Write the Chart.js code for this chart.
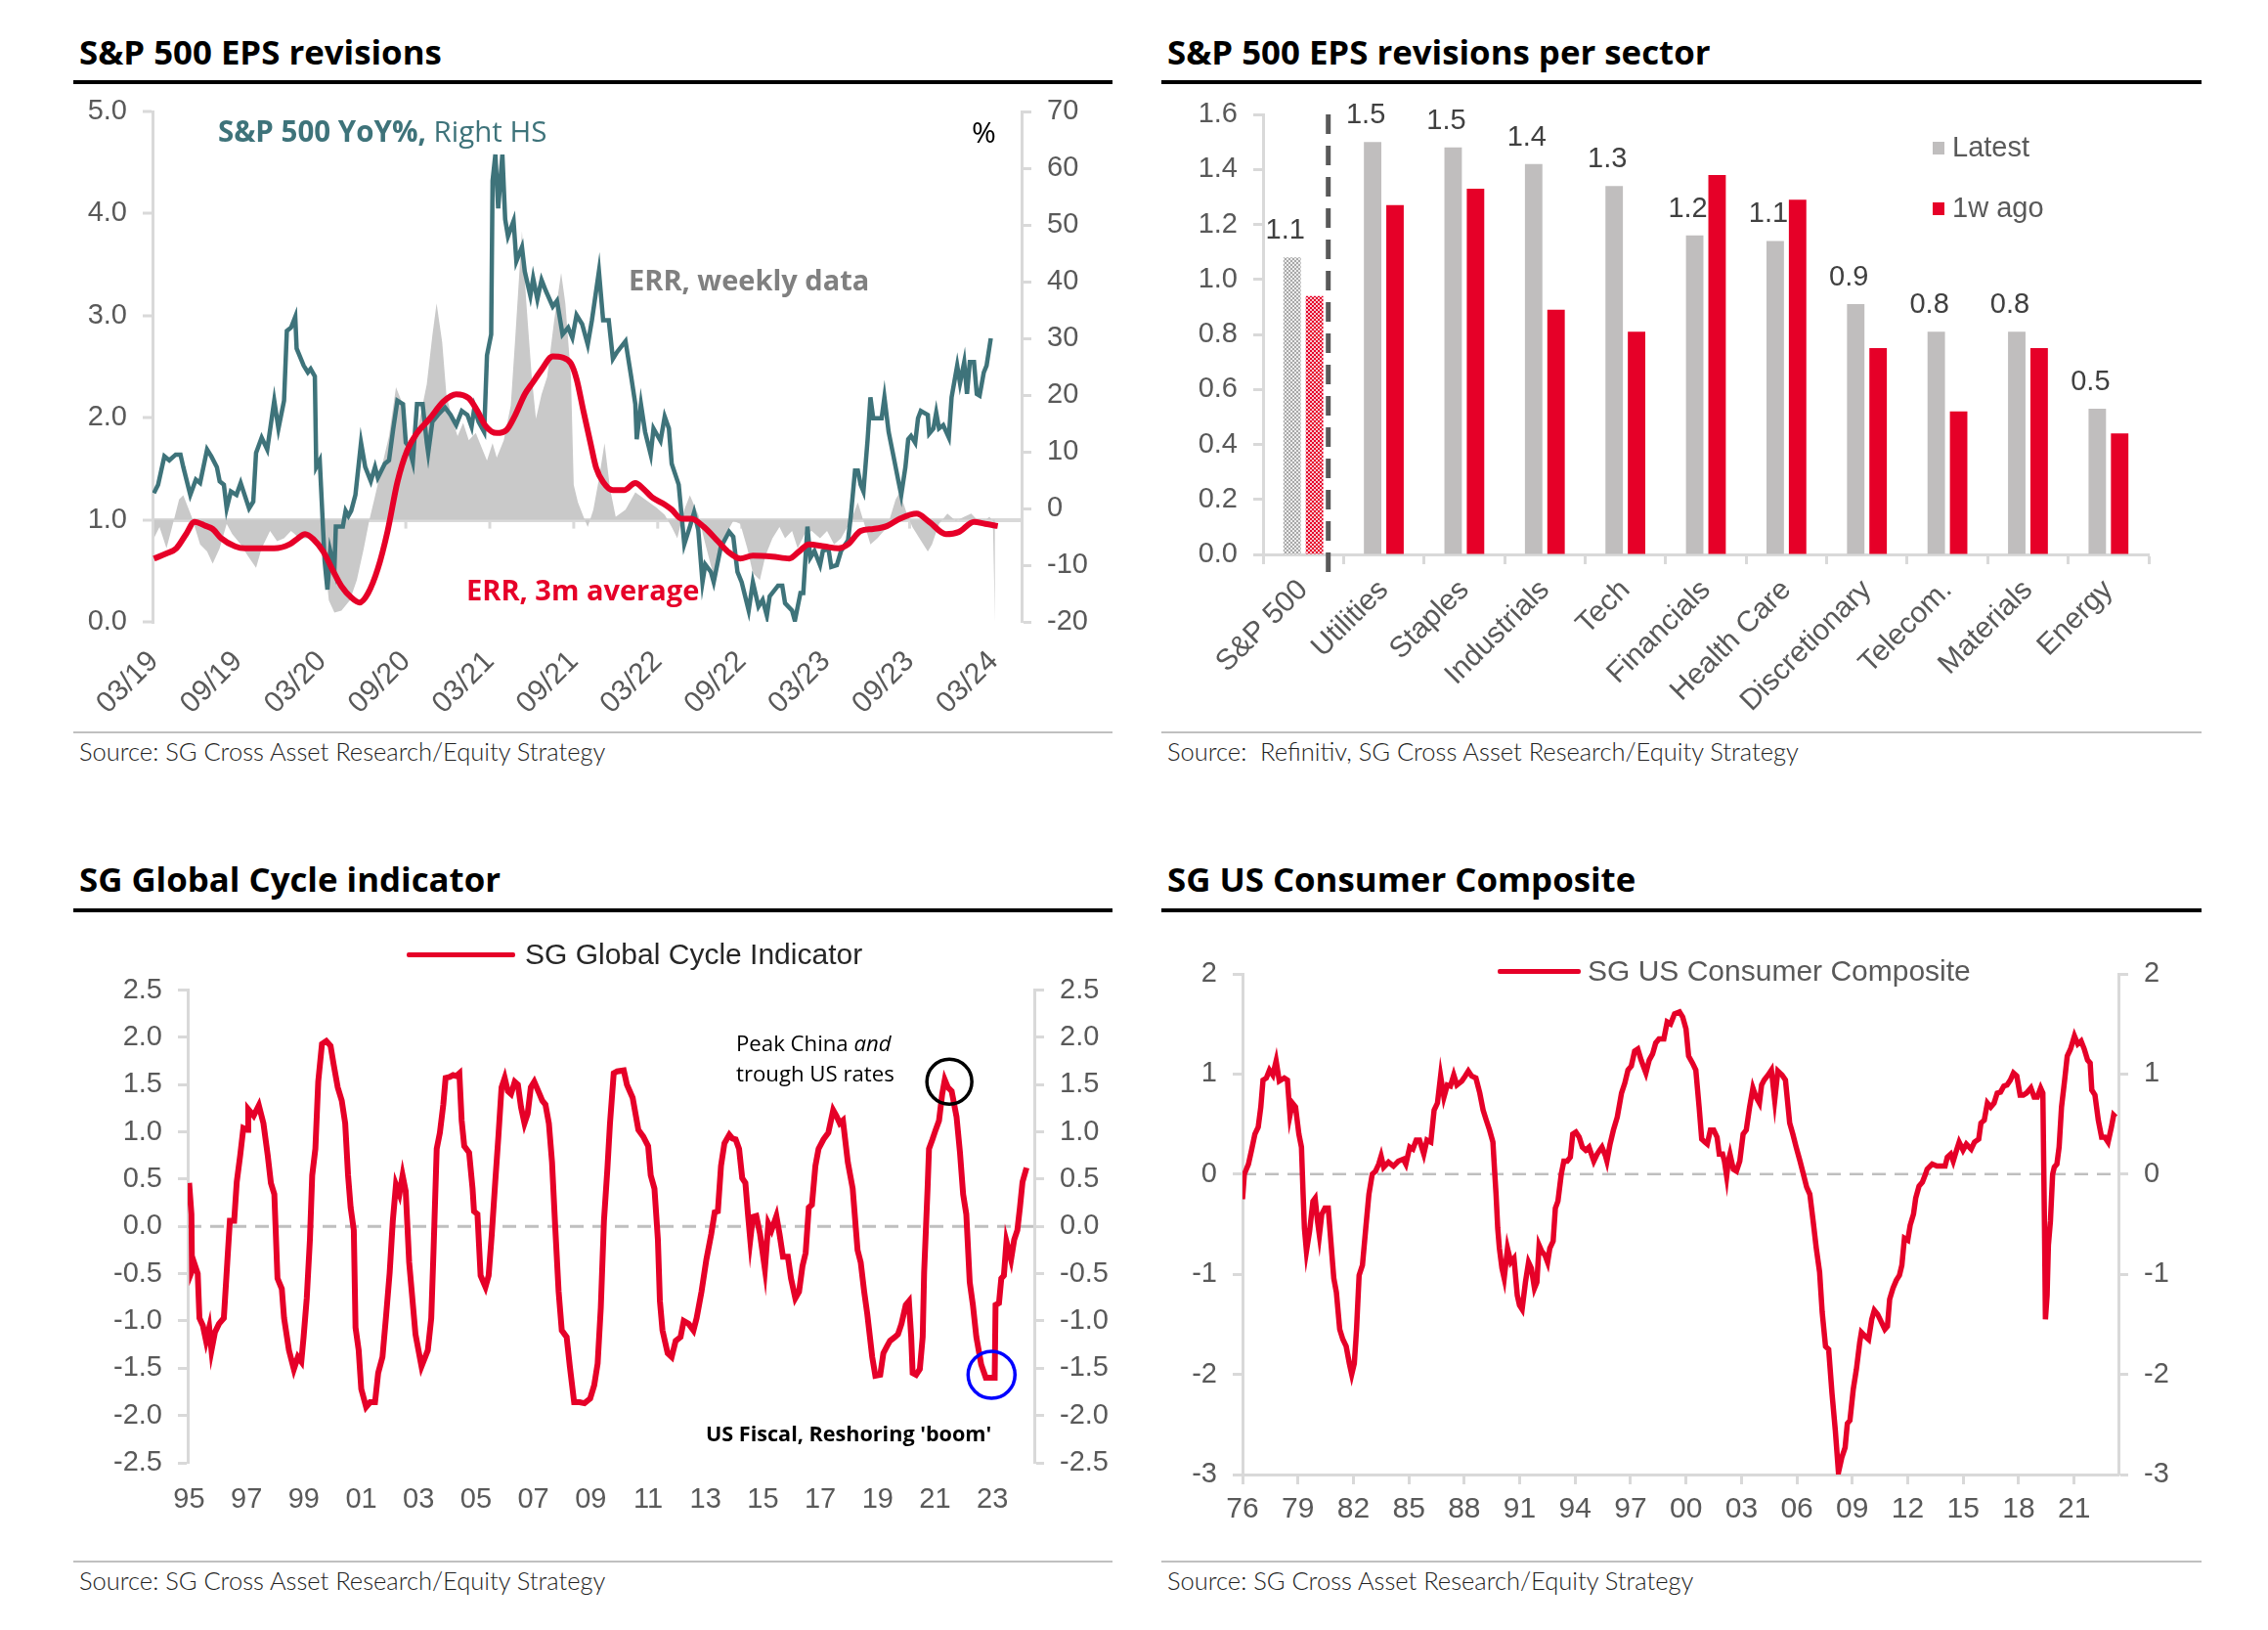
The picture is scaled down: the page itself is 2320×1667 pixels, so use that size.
<!DOCTYPE html>
<html><head><meta charset="utf-8">
<script src="https://cdn.jsdelivr.net/npm/chart.js@4.4.1/dist/chart.umd.min.js"></script>
<style>
body{margin:0;width:2320px;height:1667px;background:#fff;position:relative;overflow:hidden;font-family:'Open Sans',sans-serif}
.abs{position:absolute;white-space:nowrap}
.title{font-family:'Open Sans';font-weight:700;font-size:34.8px;color:#000;line-height:34px}
.rule{position:absolute;height:4px;background:#000}
.srule{position:absolute;height:2px;background:#c0c0c0}
.src{font-family:'Lato';font-weight:300;font-size:25.5px;color:#222;line-height:25px}
.ann{font-family:'Open Sans';line-height:1}
.leg{font-family:'Liberation Sans',Arial,sans-serif;font-size:30px;line-height:30px}
canvas{position:absolute}
</style></head><body>

<div class="abs title" style="left:81px;top:36px">S&amp;P 500 EPS revisions</div>
<div class="rule" style="left:75px;top:82px;width:1063px"></div>
<div class="srule" style="left:75px;top:748px;width:1063px"></div>
<div class="abs src" style="left:81px;top:756px">Source: SG Cross Asset Research/Equity Strategy</div>

<div class="abs title" style="left:1194px;top:36px">S&amp;P 500 EPS revisions per sector</div>
<div class="rule" style="left:1188px;top:82px;width:1064px"></div>
<div class="srule" style="left:1188px;top:748px;width:1064px"></div>
<div class="abs src" style="left:1194px;top:756px">Source:&nbsp; Refinitiv, SG Cross Asset Research/Equity Strategy</div>

<div class="abs title" style="left:81px;top:882px">SG Global Cycle indicator</div>
<div class="rule" style="left:75px;top:929px;width:1063px"></div>
<div class="srule" style="left:75px;top:1596px;width:1063px"></div>
<div class="abs src" style="left:81px;top:1604px">Source: SG Cross Asset Research/Equity Strategy</div>

<div class="abs title" style="left:1194px;top:882px">SG US Consumer Composite</div>
<div class="rule" style="left:1188px;top:929px;width:1064px"></div>
<div class="srule" style="left:1188px;top:1596px;width:1064px"></div>
<div class="abs src" style="left:1194px;top:1604px">Source: SG Cross Asset Research/Equity Strategy</div>

<canvas id="c1" width="1120" height="650" style="left:40px;top:90px"></canvas>
<canvas id="c2" width="1070" height="650" style="left:1180px;top:90px"></canvas>
<canvas id="c3" width="1120" height="600" style="left:40px;top:985px"></canvas>
<canvas id="c4" width="1070" height="610" style="left:1180px;top:970px"></canvas>

<!-- panel 1 annotations -->
<div class="abs ann" style="left:223px;top:119px;font-size:29.5px;color:#3e737a"><b style="font-weight:700">S&amp;P 500 YoY%,</b> Right HS</div>
<div class="abs ann" style="left:994px;top:120px;font-size:30px;color:#000">%</div>
<div class="abs ann" style="left:643px;top:271px;font-size:29px;color:#808080;font-weight:700">ERR, weekly data</div>
<div class="abs ann" style="left:477px;top:588px;font-size:29px;color:#e60028;font-weight:700">ERR, 3m average</div>

<!-- panel 3 legend & annotations -->
<div class="abs" style="left:416px;top:974px;width:111px;height:5px;background:#e60028;border-radius:2px"></div>
<div class="abs leg" style="left:537px;top:961px;color:#262626">SG Global Cycle Indicator</div>
<div class="abs ann" style="left:753px;top:1056px;font-size:22.2px;color:#000">Peak China <i>and</i></div>
<div class="abs ann" style="left:753px;top:1087px;font-size:22.2px;color:#000">trough US rates</div>
<div class="abs ann" style="left:722px;top:1455px;font-size:21.6px;color:#000;font-weight:700">US Fiscal, Reshoring 'boom'</div>

<!-- panel 4 legend -->
<div class="abs" style="left:1532px;top:991px;width:85px;height:5px;background:#e60028;border-radius:2px"></div>
<div class="abs leg" style="left:1624px;top:978px;color:#595959">SG US Consumer Composite</div>

<script>
// ---------------- DATA ----------------
// Panel 1: x = months since Mar-2019
const p1TickMonths = [0,6,12,18,24,30,36,42,48,54,60];
const p1TickLabels = ['03/19','09/19','03/20','09/20','03/21','09/21','03/22','09/22','03/23','09/23','03/24'];
const p1Baseline = 1.0;
const p1SpxYoY = [[0,2.7],[0.3,4.2],[0.75,9.2],[1.1,8.5],[1.56,9.5],[1.9,9.5],[2.1,7.3],[2.6,2.4],[3.0,5.1],[3.3,4.5],[3.8,10.4],[4.1,9.2],[4.5,7.3],[4.7,4.8],[5.0,4.2],[5.2,0],[5.5,3],[5.9,2.4],[6.2,4.5],[6.8,0],[7.1,1.2],[7.3,9.8],[7.7,12.5],[8.1,10.4],[8.6,19],[8.9,14.1],[9.3,19],[9.5,31.3],[9.8,31.9],[10.1,33.8],[10.2,28.2],[10.7,25.2],[11.0,24],[11.2,24.6],[11.5,23.3],[11.6,7.3],[11.85,8.5],[12.2,-9.3],[12.4,-14.3],[12.6,-7.5],[12.9,-10.6],[13.0,-3.2],[13.5,-3.2],[13.7,-0.4],[13.9,-1.3],[14.1,-0.4],[14.4,2.4],[14.8,11.6],[15.1,7.3],[15.5,4.8],[15.8,7.3],[16.0,5.4],[16.5,7.9],[16.8,8.5],[17.1,14],[17.4,19],[17.8,18.4],[18.0,11.6],[18.2,11],[18.5,8.2],[18.8,18.4],[19.2,18.4],[19.5,11.6],[19.6,9.8],[19.9,15.3],[20.3,16.5],[20.8,17.8],[21.2,16.5],[21.6,14.7],[22.0,17.2],[22.4,16.5],[22.7,14.4],[22.9,17.8],[23.2,15.3],[23.6,13.5],[23.8,27],[24.1,30.7],[24.2,57.8],[24.4,62.4],[24.6,52.9],[24.9,62.4],[25.1,51],[25.3,48],[25.7,50.7],[25.9,43.6],[26.3,46.1],[26.5,41.8],[26.9,37.5],[27.1,40.6],[27.4,36.9],[27.7,40.3],[28.0,38.4],[28.5,35.6],[28.8,36.6],[29.2,30.7],[29.6,31.9],[29.9,30.1],[30.2,34.1],[30.6,32.5],[31.0,28.9],[31.3,33.2],[31.8,41.8],[32.1,33.2],[32.5,33.2],[32.8,26.4],[33.1,27.6],[33.7,29.5],[34.1,23.3],[34.4,18.4],[34.5,12.2],[34.8,18.4],[35.1,13.5],[35.5,9.5],[35.7,14.1],[36.2,11.9],[36.5,16.2],[36.8,14.1],[37.0,7.9],[37.5,4.2],[37.9,-6.3],[38.3,-3.2],[38.6,-0.7],[38.9,-3.8],[39.2,-13],[39.4,-9.9],[39.8,-11.2],[40.0,-13],[40.5,-6.9],[41.1,-4.1],[41.4,-5],[41.7,-11.2],[42.0,-13],[42.5,-18],[42.8,-13],[43.2,-17.3],[43.5,-16.1],[43.8,-18.9],[44.0,-15.5],[44.6,-13.6],[44.9,-13.6],[45.1,-16.7],[45.6,-18],[45.8,-19.8],[46.2,-14.9],[46.4,-14.9],[46.7,-3.2],[46.9,-8.7],[47.2,-7.5],[47.6,-10],[47.8,-7.5],[48.2,-7.1],[48.4,-10.3],[48.8,-10],[49.1,-7.5],[49.6,-5.6],[49.8,-1.3],[50.1,6.7],[50.3,6.7],[50.5,4.2],[50.7,3],[51.0,12.2],[51.2,19.6],[51.4,15.9],[51.7,15.9],[52.0,15.9],[52.2,19.6],[52.5,13.5],[52.8,9.8],[53.2,4.8],[53.4,2.4],[53.7,7.3],[53.9,12.2],[54.1,12.8],[54.4,11.6],[54.6,15.9],[54.8,17.2],[55.3,16.5],[55.4,13.2],[55.7,14.1],[55.9,16.9],[56.1,14.1],[56.4,14.7],[56.8,12.5],[57.0,19.6],[57.4,25.2],[57.6,22.1],[57.9,25.8],[58.1,20.2],[58.3,25.8],[58.6,25.8],[58.8,20.2],[59.0,19.9],[59.3,24],[59.5,25.2],[59.8,30]];
const p1Err3m = [[0,0.62],[0.9,0.67],[1.6,0.72],[2.3,0.86],[2.9,0.98],[3.7,0.94],[4.2,0.91],[4.8,0.82],[5.8,0.74],[6.5,0.72],[7.6,0.72],[8.6,0.72],[9.7,0.76],[10.3,0.82],[10.8,0.86],[11.4,0.81],[12.1,0.69],[12.8,0.50],[13.4,0.35],[14.1,0.24],[14.7,0.19],[15.3,0.28],[16.0,0.52],[16.7,0.89],[17.4,1.37],[18.1,1.68],[18.8,1.85],[19.7,1.99],[20.7,2.16],[21.6,2.23],[22.5,2.19],[23.1,2.07],[23.7,1.92],[24.5,1.85],[25.2,1.88],[25.8,2.02],[26.5,2.23],[27.1,2.35],[27.7,2.47],[28.5,2.60],[29.2,2.59],[29.8,2.53],[30.2,2.38],[30.7,2.06],[31.2,1.75],[31.6,1.51],[32.1,1.37],[32.8,1.29],[33.6,1.29],[34.4,1.36],[35.0,1.30],[35.6,1.22],[36.5,1.15],[37.0,1.10],[37.7,1.01],[38.4,1.01],[39.3,0.93],[40.3,0.79],[41.0,0.69],[41.9,0.62],[42.8,0.65],[44.2,0.64],[45.4,0.62],[46.1,0.69],[46.8,0.76],[47.9,0.74],[48.9,0.72],[49.6,0.76],[50.5,0.89],[51.4,0.91],[52.4,0.94],[53.3,1.01],[54.5,1.06],[55.4,0.98],[56.6,0.86],[57.5,0.88],[58.6,0.98],[59.4,0.96],[60.3,0.94]];
const p1ErrWeekly = [[0,0.82],[0.4,0.93],[0.9,0.72],[1.3,0.93],[1.8,1.2],[2.1,1.24],[2.7,1.03],[3.3,0.76],[3.8,0.69],[4.2,0.57],[4.7,0.72],[5.2,0.96],[5.6,0.86],[6.2,0.76],[6.7,0.65],[7.3,0.53],[7.7,0.72],[8.3,0.89],[8.8,0.79],[9.3,0.82],[9.8,0.89],[10.4,0.82],[11.1,0.82],[11.7,0.72],[12.2,0.62],[12.5,0.21],[12.9,0.09],[13.4,0.11],[14.0,0.21],[14.5,0.41],[15.0,0.72],[15.4,1.0],[15.8,1.23],[16.2,1.47],[16.8,1.82],[17.3,2.3],[17.7,2.16],[18.1,1.71],[18.8,1.85],[19.5,2.33],[19.9,2.81],[20.2,3.12],[20.6,2.74],[20.9,2.23],[21.3,1.99],[21.7,1.82],[22.1,1.95],[22.5,1.78],[23.0,1.85],[23.5,1.68],[23.8,1.58],[24.2,1.75],[24.5,1.61],[25.0,1.78],[25.5,2.12],[25.8,2.74],[26.3,3.83],[26.6,3.15],[27.0,2.4],[27.3,1.99],[27.7,2.23],[28.1,2.4],[28.6,2.95],[29.1,3.42],[29.4,3.12],[29.8,2.4],[30.0,1.34],[30.3,1.17],[30.7,1.03],[31.0,0.93],[31.4,1.1],[31.8,1.4],[32.2,1.75],[32.6,1.3],[33.0,1.03],[33.7,1.1],[34.4,1.27],[35.1,1.2],[35.9,1.12],[36.5,1.05],[37.0,0.93],[37.4,0.82],[37.9,1.1],[38.3,1.24],[38.9,1.05],[39.3,0.82],[39.8,0.55],[40.1,0.41],[40.5,0.69],[41.0,0.89],[41.4,0.99],[41.9,0.96],[42.4,0.72],[42.8,0.48],[43.3,0.41],[43.7,0.65],[44.2,0.82],[44.7,0.93],[45.1,0.82],[45.6,0.89],[46.0,0.72],[46.5,0.86],[47.0,0.89],[47.6,0.82],[48.1,0.89],[48.6,0.76],[49.1,0.82],[49.8,0.99],[50.3,1.17],[50.7,0.99],[51.2,0.76],[51.7,0.82],[52.4,0.93],[53.0,1.2],[53.3,1.27],[53.8,1.06],[54.2,0.93],[54.7,0.82],[55.3,0.69],[55.6,0.76],[56.1,0.96],[56.7,1.06],[57.3,0.99],[57.9,1.03],[58.4,1.06],[59.1,0.96],[59.7,1.03],[59.95,0.99],[60.1,0.0]];

// Panel 2
const p2Sectors = ['S&P 500','Utilities','Staples','Industrials','Tech','Financials','Health Care','Discretionary','Telecom.','Materials','Energy'];
const p2Latest = [1.08,1.50,1.48,1.42,1.34,1.16,1.14,0.91,0.81,0.81,0.53];
const p2WeekAgo = [0.94,1.27,1.33,0.89,0.81,1.38,1.29,0.75,0.52,0.75,0.44];

// Panel 3: x = year
const p3TickYears = [1995,1997,1999,2001,2003,2005,2007,2009,2011,2013,2015,2017,2019,2021,2023];
const p3TickLabels = ['95','97','99','01','03','05','07','09','11','13','15','17','19','21','23'];
const p3Cycle = [[1995.0,0.46],[1995.08,0.13],[1995.1,-0.47],[1995.19,-0.40],[1995.3,-0.50],[1995.36,-0.97],[1995.48,-1.05],[1995.59,-1.21],[1995.7,-1.07],[1995.78,-1.31],[1995.9,-1.12],[1996.04,-1.03],[1996.21,-0.97],[1996.33,-0.38],[1996.42,0.06],[1996.57,0.06],[1996.66,0.47],[1996.78,0.75],[1996.89,1.04],[1997.03,1.02],[1997.06,1.24],[1997.25,1.17],[1997.43,1.28],[1997.59,1.09],[1997.74,0.75],[1997.85,0.46],[1997.97,0.34],[1998.08,-0.55],[1998.23,-0.66],[1998.31,-0.97],[1998.48,-1.31],[1998.65,-1.51],[1998.79,-1.38],[1998.91,-1.43],[1998.99,-1.17],[1999.1,-0.76],[1999.21,-0.14],[1999.29,0.54],[1999.4,0.82],[1999.5,1.53],[1999.63,1.93],[1999.78,1.96],[1999.93,1.91],[2000.04,1.71],[2000.18,1.47],[2000.32,1.33],[2000.44,1.09],[2000.54,0.54],[2000.63,0.20],[2000.74,-0.04],[2000.8,-1.07],[2000.91,-1.31],[2001.0,-1.72],[2001.17,-1.91],[2001.31,-1.86],[2001.48,-1.86],[2001.59,-1.55],[2001.74,-1.38],[2001.87,-0.93],[2001.99,-0.49],[2002.1,0.06],[2002.21,0.44],[2002.33,0.34],[2002.44,0.54],[2002.55,0.37],[2002.67,-0.38],[2002.76,-0.69],[2002.89,-1.14],[2003.1,-1.48],[2003.32,-1.31],[2003.44,-0.97],[2003.52,-0.25],[2003.63,0.82],[2003.74,0.99],[2003.86,1.29],[2003.94,1.57],[2004.08,1.58],[2004.2,1.60],[2004.31,1.59],[2004.42,1.62],[2004.5,1.12],[2004.59,0.85],[2004.76,0.78],[2004.88,0.40],[2004.93,0.16],[2005.05,0.13],[2005.16,-0.52],[2005.33,-0.64],[2005.44,-0.52],[2005.55,-0.08],[2005.67,0.47],[2005.78,0.95],[2005.89,1.47],[2006.0,1.57],[2006.11,1.43],[2006.22,1.40],[2006.35,1.53],[2006.46,1.50],[2006.57,1.26],[2006.69,1.09],[2006.8,1.19],[2006.91,1.47],[2007.03,1.53],[2007.2,1.41],[2007.31,1.33],[2007.42,1.29],[2007.54,1.09],[2007.65,0.68],[2007.76,0.0],[2007.88,-0.69],[2007.99,-1.10],[2008.16,-1.17],[2008.27,-1.48],[2008.42,-1.86],[2008.61,-1.86],[2008.78,-1.87],[2008.98,-1.82],[2009.12,-1.68],[2009.24,-1.45],[2009.35,-0.86],[2009.46,0.06],[2009.58,0.61],[2009.67,1.09],[2009.8,1.62],[2009.92,1.64],[2010.15,1.65],[2010.26,1.50],[2010.46,1.36],[2010.66,1.02],[2010.83,0.95],[2011.0,0.85],[2011.09,0.54],[2011.22,0.40],[2011.34,-0.14],[2011.41,-0.79],[2011.5,-1.10],[2011.68,-1.34],[2011.82,-1.38],[2011.96,-1.21],[2012.13,-1.17],[2012.24,-1.0],[2012.41,-1.03],[2012.58,-1.10],[2012.69,-0.97],[2012.86,-0.69],[2012.98,-0.45],[2013.03,-0.35],[2013.2,-0.08],[2013.32,0.15],[2013.43,0.16],[2013.54,0.64],[2013.66,0.88],[2013.83,0.97],[2013.94,0.93],[2014.05,0.92],[2014.17,0.82],[2014.28,0.51],[2014.39,0.46],[2014.48,0.13],[2014.56,-0.14],[2014.65,0.10],[2014.77,0.11],[2014.9,-0.08],[2015.07,-0.45],[2015.19,0.03],[2015.3,-0.04],[2015.47,0.11],[2015.58,-0.08],[2015.7,-0.32],[2015.87,-0.32],[2015.98,-0.55],[2016.13,-0.76],[2016.26,-0.69],[2016.38,-0.42],[2016.49,-0.28],[2016.6,0.20],[2016.71,0.23],[2016.83,0.64],[2016.94,0.82],[2017.11,0.92],[2017.28,0.99],[2017.45,1.23],[2017.56,1.17],[2017.68,1.09],[2017.79,1.12],[2017.96,0.68],[2018.13,0.40],[2018.3,-0.25],[2018.41,-0.38],[2018.53,-0.69],[2018.64,-0.93],[2018.81,-1.38],[2018.92,-1.58],[2019.09,-1.57],[2019.2,-1.34],[2019.32,-1.27],[2019.43,-1.21],[2019.6,-1.17],[2019.71,-1.14],[2019.83,-1.03],[2019.98,-0.83],[2020.09,-0.79],[2020.17,-1.17],[2020.22,-1.55],[2020.34,-1.57],[2020.47,-1.51],[2020.57,-1.17],[2020.62,-0.49],[2020.74,0.40],[2020.79,0.82],[2020.91,0.92],[2021.02,1.02],[2021.14,1.12],[2021.25,1.40],[2021.34,1.55],[2021.45,1.47],[2021.58,1.43],[2021.75,1.16],[2021.87,0.78],[2021.98,0.34],[2022.09,0.13],[2022.21,-0.59],[2022.32,-0.83],[2022.44,-1.17],[2022.61,-1.46],[2022.77,-1.60],[2022.94,-1.60],[2023.08,-1.60],[2023.11,-0.83],[2023.23,-0.81],[2023.31,-0.55],[2023.4,-0.52],[2023.49,-0.16],[2023.65,-0.35],[2023.76,-0.14],[2023.87,-0.04],[2023.96,0.20],[2024.05,0.47],[2024.19,0.62]];
const p3PeakMark = [[2021.5,1.53]];
const p3TroughMark = [[2022.97,-1.57]];

// Panel 4
const p4TickYears = [1976,1979,1982,1985,1988,1991,1994,1997,2000,2003,2006,2009,2012,2015,2018,2021];
const p4TickLabels = ['76','79','82','85','88','91','94','97','00','03','06','09','12','15','18','21'];
const p4Consumer = [[1976.0,-0.25],[1976.1,0],[1976.32,0.10],[1976.49,0.24],[1976.67,0.40],[1976.85,0.47],[1976.99,0.67],[1977.11,0.94],[1977.29,0.96],[1977.46,1.04],[1977.64,0.99],[1977.82,1.13],[1977.99,0.93],[1978.26,0.96],[1978.43,0.94],[1978.57,0.59],[1978.7,0.71],[1978.87,0.67],[1979.05,0.40],[1979.19,0.27],[1979.28,-0.20],[1979.35,-0.54],[1979.46,-0.77],[1979.63,-0.57],[1979.81,-0.27],[1979.93,-0.24],[1980.06,-0.47],[1980.16,-0.61],[1980.29,-0.40],[1980.46,-0.34],[1980.64,-0.34],[1980.81,-0.74],[1980.94,-1.04],[1981.08,-1.18],[1981.26,-1.55],[1981.43,-1.65],[1981.61,-1.72],[1981.78,-1.89],[1981.91,-2.0],[1982.05,-1.89],[1982.17,-1.55],[1982.31,-1.01],[1982.49,-0.91],[1982.67,-0.54],[1982.84,-0.20],[1983.02,0.0],[1983.2,0.03],[1983.37,0.10],[1983.5,0.18],[1983.64,0.07],[1983.9,0.12],[1984.17,0.08],[1984.43,0.13],[1984.7,0.15],[1984.84,0.10],[1985.05,0.27],[1985.22,0.25],[1985.4,0.34],[1985.58,0.34],[1985.81,0.20],[1985.98,0.34],[1986.19,0.32],[1986.37,0.64],[1986.55,0.71],[1986.72,0.98],[1986.9,0.77],[1987.08,0.89],[1987.25,0.88],[1987.43,0.99],[1987.6,0.89],[1987.87,0.93],[1988.05,0.98],[1988.22,1.03],[1988.4,0.98],[1988.63,0.96],[1988.84,0.81],[1989.02,0.64],[1989.19,0.54],[1989.37,0.44],[1989.55,0.32],[1989.63,0.07],[1989.72,-0.20],[1989.81,-0.54],[1989.9,-0.74],[1990.04,-0.94],[1990.16,-1.04],[1990.34,-0.74],[1990.52,-0.88],[1990.69,-0.84],[1990.87,-1.21],[1990.99,-1.31],[1991.13,-1.35],[1991.31,-1.08],[1991.48,-0.88],[1991.63,-0.94],[1991.8,-1.14],[1991.93,-1.08],[1992.05,-0.71],[1992.19,-0.77],[1992.37,-0.81],[1992.51,-0.88],[1992.63,-0.74],[1992.81,-0.67],[1992.93,-0.34],[1993.07,-0.27],[1993.25,0.0],[1993.39,0.13],[1993.57,0.13],[1993.74,0.17],[1993.87,0.40],[1994.04,0.42],[1994.22,0.37],[1994.39,0.27],[1994.57,0.24],[1994.75,0.27],[1995.01,0.13],[1995.19,0.20],[1995.33,0.24],[1995.45,0.27],[1995.63,0.19],[1995.72,0.13],[1995.89,0.30],[1996.07,0.44],[1996.28,0.57],[1996.51,0.81],[1996.69,0.91],[1996.86,1.04],[1997.04,1.08],[1997.22,1.23],[1997.39,1.25],[1997.57,1.14],[1997.83,1.01],[1998.01,1.14],[1998.19,1.20],[1998.36,1.31],[1998.54,1.35],[1998.8,1.35],[1998.98,1.52],[1999.16,1.50],[1999.38,1.60],[1999.65,1.62],[1999.82,1.57],[2000.0,1.45],[2000.14,1.18],[2000.35,1.11],[2000.53,1.04],[2000.71,0.67],[2000.85,0.35],[2001.02,0.32],[2001.15,0.30],[2001.32,0.44],[2001.5,0.44],[2001.68,0.37],[2001.8,0.20],[2001.98,0.20],[2002.08,0.13],[2002.2,-0.02],[2002.29,0.13],[2002.38,0.20],[2002.56,0.05],[2002.73,0.03],[2002.91,0.13],[2003.09,0.40],[2003.26,0.44],[2003.44,0.67],[2003.62,0.86],[2003.79,0.77],[2003.97,0.71],[2004.09,0.89],[2004.23,0.94],[2004.44,0.99],[2004.62,1.04],[2004.8,0.74],[2004.97,1.03],[2005.2,0.99],[2005.38,0.94],[2005.61,0.51],[2005.78,0.40],[2005.96,0.27],[2006.17,0.13],[2006.35,0.0],[2006.53,-0.13],[2006.7,-0.20],[2006.88,-0.47],[2007.05,-0.74],[2007.23,-0.98],[2007.37,-1.38],[2007.55,-1.72],[2007.72,-1.75],[2007.9,-2.19],[2008.08,-2.56],[2008.25,-2.98],[2008.43,-2.83],[2008.61,-2.73],[2008.73,-2.49],[2008.87,-2.46],[2009.05,-2.15],[2009.22,-1.95],[2009.4,-1.68],[2009.49,-1.58],[2009.7,-1.62],[2009.88,-1.65],[2010.05,-1.45],[2010.19,-1.36],[2010.37,-1.40],[2010.58,-1.48],[2010.76,-1.55],[2010.9,-1.52],[2011.02,-1.25],[2011.2,-1.14],[2011.38,-1.06],[2011.55,-1.01],[2011.68,-0.91],[2011.82,-0.64],[2012.0,-0.66],[2012.13,-0.51],[2012.31,-0.40],[2012.43,-0.24],[2012.61,-0.12],[2012.79,-0.08],[2012.96,0.0],[2013.05,0.05],[2013.32,0.10],[2013.58,0.08],[2013.84,0.08],[2014.02,0.08],[2014.14,0.17],[2014.32,0.20],[2014.46,0.13],[2014.64,0.24],[2014.78,0.32],[2014.99,0.24],[2015.17,0.30],[2015.43,0.25],[2015.61,0.32],[2015.84,0.35],[2015.96,0.51],[2016.14,0.54],[2016.31,0.71],[2016.49,0.67],[2016.67,0.71],[2016.84,0.81],[2017.02,0.82],[2017.2,0.88],[2017.37,0.89],[2017.55,0.94],[2017.72,1.01],[2017.9,0.98],[2018.08,0.79],[2018.25,0.79],[2018.43,0.81],[2018.66,0.86],[2018.84,0.77],[2019.01,0.77],[2019.19,0.86],[2019.31,0.81],[2019.4,-0.54],[2019.45,-1.45],[2019.54,-1.21],[2019.61,-0.71],[2019.72,-0.47],[2019.84,0.0],[2019.93,0.07],[2020.07,0.10],[2020.19,0.27],[2020.32,0.67],[2020.49,0.94],[2020.63,1.18],[2020.81,1.25],[2021.02,1.38],[2021.2,1.30],[2021.38,1.33],[2021.55,1.25],[2021.73,1.14],[2021.87,1.11],[2021.96,0.84],[2022.13,0.79],[2022.31,0.54],[2022.49,0.37],[2022.66,0.37],[2022.84,0.32],[2023.02,0.47],[2023.14,0.59],[2023.25,0.57]];

// ---------------- STYLE ----------------
const RED = '#e60028', TEAL = '#3e737a', AREA = '#c9c9c9', AX = '#d9d9d9', BARGRAY = '#c0bebe', TXT = '#595959';
const FONT = "'Liberation Sans', Arial, sans-serif";
Chart.defaults.font.family = FONT;
Chart.defaults.color = TXT;
Chart.defaults.animation = false;

const toXY = a => a.map(([x, y]) => ({x, y}));
const fixW = w => s => { s.width = w; };
const fixH = h => s => { s.height = h; };
const noPlug = {legend: {display: false}, tooltip: {enabled: false}};

function vAxis(pos, min, max, step, fmt, width, extraGrid) {
  return {
    type: 'linear', position: pos, min, max,
    ticks: {stepSize: step, callback: fmt, font: {size: 29, lineHeight: 0.5}, color: TXT, padding: 16},
    grid: Object.assign({drawOnChartArea: false, tickLength: 10, tickColor: AX, tickWidth: 3}, extraGrid || {}),
    border: {color: AX, width: 3},
    afterFit: fixW(width)
  };
}
function fixedTicks(values) { return s => { s.ticks = values.map(v => ({value: v})); }; }

// ---------------- PANEL 1 ----------------
const p1Stubs = {
  id: 'p1Stubs',
  beforeDatasetsDraw(chart) {
    const {ctx} = chart, xs = chart.scales.x, ys = chart.scales.yL;
    const y1 = ys.getPixelForValue(p1Baseline);
    ctx.save(); ctx.strokeStyle = AX; ctx.lineWidth = 3;
    xs.ticks.forEach(t => { const px = xs.getPixelForValue(t.value); ctx.beginPath(); ctx.moveTo(px, y1); ctx.lineTo(px, y1 + 9); ctx.stroke(); });
    ctx.restore();
  }
};
new Chart(document.getElementById('c1'), {
  type: 'line',
  data: {datasets: [
    {label: 'ERR, 3m average', data: toXY(p1Err3m), xAxisID: 'x', yAxisID: 'yL', borderColor: RED, borderWidth: 6, pointRadius: 0, cubicInterpolationMode: 'monotone', order: 1},
    {label: 'S&P 500 YoY%', data: toXY(p1SpxYoY), xAxisID: 'x', yAxisID: 'yR', borderColor: TEAL, borderWidth: 4.5, pointRadius: 0, tension: 0, order: 2},
    {label: 'ERR, weekly data', data: toXY(p1ErrWeekly), xAxisID: 'x', yAxisID: 'yL', borderWidth: 0, borderColor: AREA, backgroundColor: AREA, fill: {value: p1Baseline}, pointRadius: 0, tension: 0, order: 3}
  ]},
  options: {
    responsive: false, maintainAspectRatio: false,
    layout: {padding: {top: 24, left: 0, right: 0, bottom: 0}},
    plugins: noPlug,
    scales: {
      x: {type: 'linear', min: -0.1, max: 62, afterBuildTicks: fixedTicks(p1TickMonths),
          ticks: {autoSkip: false, minRotation: 45, maxRotation: 45, padding: 15, font: {size: 30}, color: TXT,
                  callback: v => p1TickLabels[p1TickMonths.indexOf(v)]},
          grid: {display: false}, border: {display: false}, afterFit: fixH(104)},
      yL: vAxis('left', 0, 5, 1, v => v.toFixed(1), 116,
          {drawOnChartArea: true, lineWidth: 4, color: c => (c.tick && Math.abs(c.tick.value - p1Baseline) < 1e-9) ? AX : 'rgba(0,0,0,0)'}),
      yR: vAxis('right', -20, 70, 10, v => String(v), 115)
    }
  },
  plugins: [p1Stubs]
});

// ---------------- PANEL 2 ----------------
function checker(c1, c2) {
  const pc = document.createElement('canvas'); pc.width = 4; pc.height = 4;
  const g = pc.getContext('2d');
  g.fillStyle = c2; g.fillRect(0, 0, 4, 4);
  g.fillStyle = c1; g.fillRect(0, 0, 2, 2); g.fillRect(2, 2, 2, 2);
  return g.createPattern(pc, 'repeat');
}
const grayCols = p2Latest.map((v, i) => i === 0 ? checker('#a8a8a8', '#ececec') : BARGRAY);
const redCols = p2WeekAgo.map((v, i) => i === 0 ? checker(RED, '#f7c4cd') : RED);
const p2Extras = {
  id: 'p2Extras',
  afterDatasetsDraw(chart) {
    const {ctx, chartArea} = chart, xs = chart.scales.x, ys = chart.scales.y;
    ctx.save();
    const step = xs.getPixelForValue(1) - xs.getPixelForValue(0);
    const dx = xs.getPixelForValue(0) + 0.31 * step;
    ctx.strokeStyle = '#595959'; ctx.lineWidth = 5; ctx.setLineDash([20, 12]);
    ctx.beginPath(); ctx.moveTo(dx, ys.getPixelForValue(1.6)); ctx.lineTo(dx, chartArea.bottom + 18); ctx.stroke();
    ctx.setLineDash([]);
    ctx.font = "29px " + FONT; ctx.fillStyle = '#404040'; ctx.textAlign = 'center'; ctx.textBaseline = 'middle';
    chart.getDatasetMeta(0).data.forEach((bar, i) => {
      ctx.fillText(p2Latest[i].toFixed(1), bar.x - 7, bar.y - 27);
    });
    const lx = chartArea.right - 221;
    ctx.textAlign = 'left';
    chart.data.datasets.forEach((ds, k) => {
      const yy = chartArea.top + 34 + k * 62;
      ctx.fillStyle = k === 0 ? BARGRAY : RED; ctx.fillRect(lx, yy - 6, 12, 13);
      ctx.fillStyle = TXT; ctx.fillText(ds.label, lx + 20, yy + 1);
    });
    ctx.restore();
  }
};
new Chart(document.getElementById('c2'), {
  type: 'bar',
  data: {labels: p2Sectors, datasets: [
    {label: 'Latest', data: p2Latest, backgroundColor: grayCols, categoryPercentage: 0.556, barPercentage: 0.78},
    {label: '1w ago', data: p2WeekAgo, backgroundColor: redCols, categoryPercentage: 0.556, barPercentage: 0.78}
  ]},
  options: {
    responsive: false, maintainAspectRatio: false,
    layout: {padding: {top: 27, left: 0, right: 52, bottom: 0}},
    plugins: noPlug,
    scales: {
      x: {ticks: {autoSkip: false, minRotation: 45, maxRotation: 45, padding: 9, font: {size: 30}, color: TXT},
          grid: {drawOnChartArea: false, offset: true, tickLength: 10, tickColor: AX, tickWidth: 3},
          border: {color: AX, width: 3}, afterFit: fixH(173)},
      y: vAxis('left', 0, 1.6, 0.2, v => v.toFixed(1), 112)
    }
  },
  plugins: [p2Extras]
});

// ---------------- PANEL 3 ----------------
new Chart(document.getElementById('c3'), {
  type: 'line',
  data: {datasets: [
    {label: 'SG Global Cycle Indicator', data: toXY(p3Cycle), xAxisID: 'x', yAxisID: 'yL', borderColor: RED, borderWidth: 6, pointRadius: 0, tension: 0, order: 2},
    {label: 'zero', data: [{x: 1994.95, y: 0}, {x: 2024.46, y: 0}], xAxisID: 'x', yAxisID: 'yL', borderColor: '#bfbfbf', borderWidth: 3, borderDash: [14, 9], pointRadius: 0, order: 3},
    {label: 'Peak China and trough US rates', type: 'scatter', data: toXY(p3PeakMark), xAxisID: 'x', yAxisID: 'yL', pointRadius: 23, pointBorderWidth: 3.5, pointBorderColor: '#000', pointBackgroundColor: 'rgba(0,0,0,0)', order: 1},
    {label: "US Fiscal, Reshoring 'boom'", type: 'scatter', data: toXY(p3TroughMark), xAxisID: 'x', yAxisID: 'yL', pointRadius: 24, pointBorderWidth: 3.5, pointBorderColor: '#0000ff', pointBackgroundColor: 'rgba(0,0,0,0)', order: 1}
  ]},
  options: {
    responsive: false, maintainAspectRatio: false,
    layout: {padding: {top: 24, left: 0, right: 0, bottom: 0}},
    plugins: noPlug,
    scales: {
      x: {type: 'linear', min: 1994.95, max: 2024.46, afterBuildTicks: fixedTicks(p3TickYears),
          ticks: {autoSkip: false, maxRotation: 0, padding: 13, font: {size: 29}, color: TXT,
                  callback: v => p3TickLabels[p3TickYears.indexOf(v)]},
          grid: {display: false}, border: {display: false}, afterFit: fixH(89)},
      yL: vAxis('left', -2.5, 2.5, 0.5, v => v.toFixed(1), 152),
      yR: vAxis('right', -2.5, 2.5, 0.5, v => v.toFixed(1), 102)
    }
  }
});

// ---------------- PANEL 4 ----------------
new Chart(document.getElementById('c4'), {
  type: 'line',
  data: {datasets: [
    {label: 'SG US Consumer Composite', data: toXY(p4Consumer), xAxisID: 'x', yAxisID: 'yL', borderColor: RED, borderWidth: 5.5, pointRadius: 0, tension: 0, order: 1},
    {label: 'zero', data: [{x: 1976, y: 0}, {x: 2023.4, y: 0}], xAxisID: 'x', yAxisID: 'yL', borderColor: '#bfbfbf', borderWidth: 2.5, borderDash: [14, 9], pointRadius: 0, order: 2}
  ]},
  options: {
    responsive: false, maintainAspectRatio: false,
    layout: {padding: {top: 26, left: 0, right: 0, bottom: 0}},
    plugins: noPlug,
    scales: {
      x: {type: 'linear', min: 1976, max: 2023.4, afterBuildTicks: fixedTicks(p4TickYears),
          ticks: {autoSkip: false, maxRotation: 0, padding: 8, font: {size: 30}, color: TXT,
                  callback: v => p4TickLabels[p4TickYears.indexOf(v)]},
          grid: {drawOnChartArea: false, tickLength: 10, tickColor: AX, tickWidth: 3},
          border: {color: AX, width: 3}, afterFit: fixH(72)},
      yL: vAxis('left', -3, 2, 1, v => String(v), 91),
      yR: vAxis('right', -3, 2, 1, v => String(v), 83)
    }
  }
});
</script>
</body></html>
